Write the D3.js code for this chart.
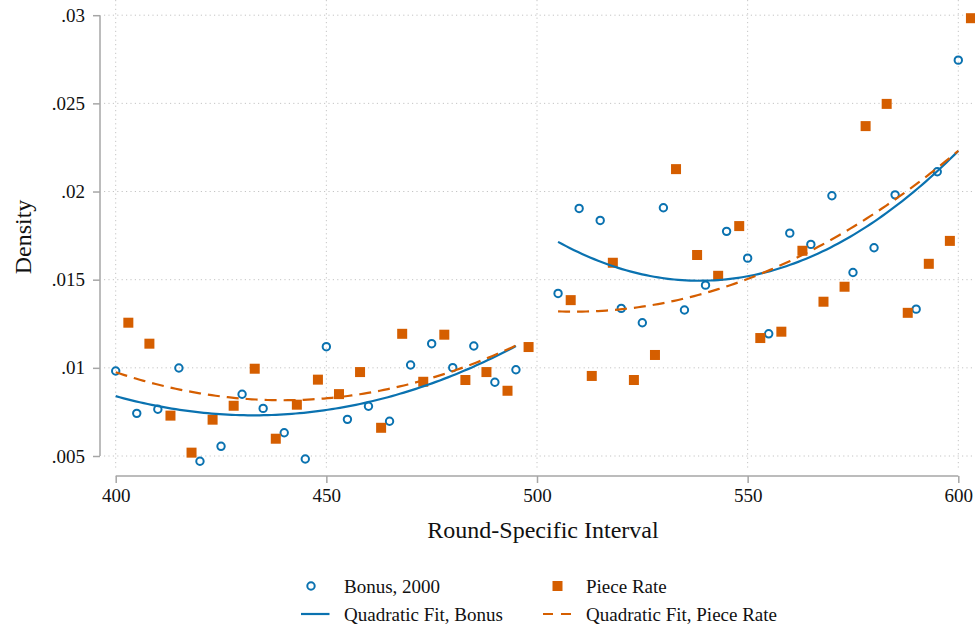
<!DOCTYPE html>
<html>
<head>
<meta charset="utf-8">
<script src="https://cdn.jsdelivr.net/npm/d3@7"></script>
<style>
  html, body { margin: 0; padding: 0; background: #fff; }
  svg { display: block; font-family: "Liberation Serif", "Times New Roman", serif; }
</style>
</head>
<body>
<svg id="chart" width="975" height="629"></svg>
<script>
// Density of chosen interval by round, bonus vs piece-rate treatments
const bonusIntervals = [400, 405, 410, 415, 420, 425, 430, 435, 440, 445,
                        450, 455, 460, 465, 470, 475, 480, 485, 490, 495,
                        505, 510, 515, 520, 525, 530, 535, 540, 545, 550,
                        555, 560, 565, 570, 575, 580, 585, 590, 595, 600];
const bonusDensity = [.00982, .00742, .00765, .00999, .00470, .00555, .00850, .00770, .00632, .00483,
                      .01120, .00708, .00782, .00697, .01016, .01137, .01001, .01124, .00918, .00989,
                      .01422, .01904, .01836, .01337, .01256, .01908, .01328, .01469, .01774, .01622,
                      .01193, .01764, .01700, .01976, .01541, .01681, .01981, .01333, .02112, .02745];

const pieceIntervals = [400, 405, 410, 415, 420, 425, 430, 435, 440, 445,
                        450, 455, 460, 465, 470, 475, 480, 485, 490, 495,
                        505, 510, 515, 520, 525, 530, 535, 540, 545, 550,
                        555, 560, 565, 570, 575, 580, 585, 590, 595, 600];
const pieceDensity = [.01256, .01137, .00729, .00519, .00706, .00785, .00995, .00598, .00791, .00933,
                      .00851, .00976, .00660, .01193, .00921, .01188, .00931, .00976, .00870, .01118,
                      .01384, .00954, .01596, .00931, .01073, .02127, .01640, .01522, .01804, .01169,
                      .01205, .01664, .01375, .01460, .02371, .02497, .01312, .01590, .01720, .02983];
// piece-rate markers are nudged right so they don't sit on top of the bonus markers
const pieceShift = 3;

// quadratic fits are estimated separately below and above this cutoff
const cutoff = 500;
const fitSpans = [[400, 495], [505, 600]];

const xTicks = [400, 450, 500, 550, 600];
const yTicks = [.005, .01, .015, .02, .025, .03];
const yTickLabels = [".005", ".01", ".015", ".02", ".025", ".03"];

const legendLabels = ["Bonus, 2000", "Piece Rate", "Quadratic Fit, Bonus", "Quadratic Fit, Piece Rate"];

const blue = "#0a72b0";
const orange = "#d55e00";
const serif = "'Liberation Serif', 'Times New Roman', serif";

const svg = d3.select("#chart");

const x = d3.scaleLinear().domain([400, 600]).range([115.7, 958.3]);
const y = d3.scaleLinear().domain([.005, .03]).range([456, 15.2]);

// plot region
const plotLeft = 100, plotRight = 975, plotTop = 0, plotBottom = 470;

// grid
const grid = svg.append("g").attr("stroke", "#c4c4c4").attr("stroke-width", 1)
  .attr("stroke-dasharray", "1.2,3.2");
grid.selectAll("line.h").data(yTicks).join("line").attr("class", "h")
  .attr("x1", plotLeft + 4).attr("x2", plotRight)
  .attr("y1", d => y(d)).attr("y2", d => y(d));
grid.selectAll("line.v").data(xTicks).join("line").attr("class", "v")
  .attr("x1", d => x(d)).attr("x2", d => x(d))
  .attr("y1", plotTop).attr("y2", plotBottom);

// y axis
const yAxis = svg.append("g").attr("transform", `translate(${plotLeft},0)`)
  .call(d3.axisLeft(y).tickValues(yTicks).tickFormat((d, i) => yTickLabels[i]).tickSize(7).tickPadding(8));
yAxis.attr("font-family", serif);
yAxis.select(".domain").attr("stroke", "#a6a6a6").attr("stroke-width", 1.5)
  .attr("d", `M0,${y(.005)}V${y(.03)}`);
yAxis.selectAll(".tick line").attr("stroke", "#a6a6a6").attr("stroke-width", 1.5);
yAxis.selectAll(".tick text").attr("font-size", 19).attr("fill", "#111");

// x axis
const xAxis = svg.append("g").attr("transform", "translate(0,476)")
  .call(d3.axisBottom(x).tickValues(xTicks).tickFormat(d3.format("d")).tickSize(7).tickPadding(6));
xAxis.attr("font-family", serif);
xAxis.select(".domain").attr("stroke", "#a6a6a6").attr("stroke-width", 1.5)
  .attr("d", `M${x(400)},0H${x(600)}`);
xAxis.selectAll(".tick line").attr("stroke", "#a6a6a6").attr("stroke-width", 1.5);
xAxis.selectAll(".tick text").attr("font-size", 19).attr("fill", "#111");

// axis titles
svg.append("text").attr("x", 543).attr("y", 538)
  .attr("text-anchor", "middle").attr("font-size", 24).attr("fill", "#111")
  .text("Round-Specific Interval");
svg.append("text").attr("transform", "translate(31,237) rotate(-90)")
  .attr("text-anchor", "middle").attr("font-size", 24).attr("fill", "#111")
  .text("Density");

// least-squares quadratic fit y = a + b x + c x^2
function quadFit(xs, ys) {
  const m = d3.mean(xs);
  const u = xs.map(v => v - m);
  const S = k => d3.sum(u, v => Math.pow(v, k));
  const T = k => d3.sum(u, (v, i) => Math.pow(v, k) * ys[i]);
  const A = [[S(0), S(1), S(2)], [S(1), S(2), S(3)], [S(2), S(3), S(4)]];
  const B = [T(0), T(1), T(2)];
  for (let i = 0; i < 3; i++) {
    for (let j = i + 1; j < 3; j++) {
      const f = A[j][i] / A[i][i];
      for (let k = i; k < 3; k++) A[j][k] -= f * A[i][k];
      B[j] -= f * B[i];
    }
  }
  const c = [0, 0, 0];
  for (let i = 2; i >= 0; i--) {
    let s = B[i];
    for (let k = i + 1; k < 3; k++) s -= A[i][k] * c[k];
    c[i] = s / A[i][i];
  }
  return v => c[0] + c[1] * (v - m) + c[2] * (v - m) * (v - m);
}

function fitSegments(xs, ys) {
  return fitSpans.map(([lo, hi]) => {
    const below = lo < cutoff;
    const idx = xs.map((v, i) => i).filter(i => below ? xs[i] < cutoff : xs[i] > cutoff);
    const f = quadFit(idx.map(i => xs[i]), idx.map(i => ys[i]));
    return d3.range(0, 101).map(k => {
      const v = lo + (hi - lo) * k / 100;
      return [v, f(v)];
    });
  });
}

const line = d3.line().x(d => x(d[0])).y(d => y(d[1]));

// markers
const bonus = bonusIntervals.map((v, i) => [v, bonusDensity[i]]);
const piece = pieceIntervals.map((v, i) => [v, pieceDensity[i]]);

svg.append("g").selectAll("circle").data(bonus).join("circle")
  .attr("cx", d => x(d[0])).attr("cy", d => y(d[1])).attr("r", 3.7)
  .attr("fill", "none").attr("stroke", blue).attr("stroke-width", 2);

const sq = 10;
svg.append("g").selectAll("rect").data(piece).join("rect")
  .attr("x", d => x(d[0] + pieceShift) - sq / 2).attr("y", d => y(d[1]) - sq / 2)
  .attr("width", sq).attr("height", sq).attr("fill", orange);

// fit lines
const fitsG = svg.append("g").attr("fill", "none");
fitSegments(bonusIntervals, bonusDensity).forEach(seg => {
  fitsG.append("path").attr("d", line(seg)).attr("stroke", blue).attr("stroke-width", 2.2);
});
fitSegments(pieceIntervals, pieceDensity).forEach(seg => {
  fitsG.append("path").attr("d", line(seg)).attr("stroke", orange).attr("stroke-width", 2.2)
    .attr("stroke-dasharray", "12,7");
});

// legend
const legend = svg.append("g").attr("font-size", 19).attr("fill", "#111");
const colA = 311, colB = 557.5, textA = 344, textB = 586, row1 = 586, row2 = 614;
legend.append("circle").attr("cx", colA).attr("cy", row1).attr("r", 3.7)
  .attr("fill", "none").attr("stroke", blue).attr("stroke-width", 2);
legend.append("rect").attr("x", colB - 5).attr("y", row1 - 5).attr("width", 10).attr("height", 10)
  .attr("fill", orange);
legend.append("line").attr("x1", 301).attr("x2", 329.5).attr("y1", row2).attr("y2", row2)
  .attr("stroke", blue).attr("stroke-width", 2.2);
legend.append("line").attr("x1", 543).attr("x2", 571).attr("y1", row2).attr("y2", row2)
  .attr("stroke", orange).attr("stroke-width", 2.2).attr("stroke-dasharray", "10,8");
[[textA, row1, 0], [textB, row1, 1], [textA, row2, 2], [textB, row2, 3]].forEach(([tx, ty, i]) => {
  legend.append("text").attr("x", tx).attr("y", ty).attr("dy", "0.35em").text(legendLabels[i]);
});
</script>
</body>
</html>
